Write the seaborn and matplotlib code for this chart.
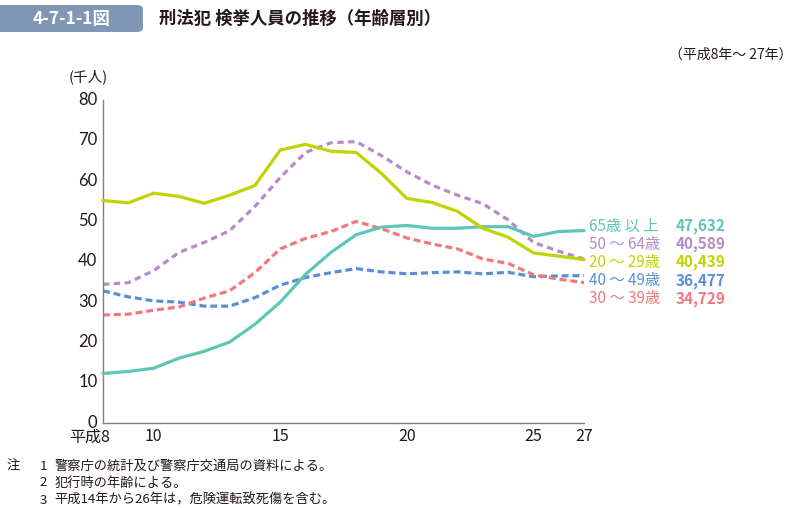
import numpy as np
import pandas as pd
import matplotlib
matplotlib.use("Agg")
import matplotlib.pyplot as plt
import matplotlib.transforms as mtransforms
from matplotlib.patches import FancyBboxPatch
from matplotlib.ticker import MultipleLocator
import seaborn as sns

# ---------------------------------------------------------------
#   刑法犯 検挙人員の推移（年齢層別）  平成8年～27年
# ---------------------------------------------------------------

years = list(range(8, 28))

age_20_29 = [55.1, 54.5, 56.9, 56.1, 54.4, 56.4, 58.8, 67.6, 69.0, 67.3,
             67.0, 61.8, 55.6, 54.6, 52.4, 48.2, 46.0, 42.1, 41.3, 40.439]
age_30_39 = [26.7, 26.9, 27.9, 28.7, 30.9, 32.7, 37.2, 43.1, 45.7, 47.4,
             49.9, 48.1, 45.8, 44.3, 43.1, 40.6, 39.5, 36.7, 35.6, 34.729]
age_40_49 = [32.7, 31.2, 30.2, 29.9, 28.9, 28.9, 31.0, 34.1, 36.0, 37.2,
             38.2, 37.4, 36.9, 37.2, 37.4, 36.9, 37.3, 36.2, 36.4, 36.477]
age_50_64 = [34.3, 34.7, 37.7, 42.2, 44.7, 47.6, 53.6, 60.8, 67.0, 69.4,
             69.7, 66.2, 62.2, 58.9, 56.4, 54.3, 50.3, 44.7, 42.5, 40.589]
age_65 = [12.2, 12.7, 13.5, 16.0, 17.7, 20.0, 24.4, 29.9, 36.8, 42.2,
          46.6, 48.5, 48.9, 48.2, 48.2, 48.6, 48.6, 46.2, 47.4, 47.632]

series_names = ["65歳 以 上", "50 ～ 64歳", "20 ～ 29歳", "40 ～ 49歳", "30 ～ 39歳"]
last_values = ["47,632", "40,589", "40,439", "36,477", "34,729"]
series_data = [age_65, age_50_64, age_20_29, age_40_49, age_30_39]

colors = ["#5ec6b6", "#b68bc7", "#bfd400", "#5a8ed6", "#f2787f"]
dash_styles = ["", (2.0, 1.4), "", (2.2, 1.2), (2.2, 1.2)]

xtick_pos = [8, 10, 15, 20, 25, 27]
xtick_labels = ["平成8", "10", "15", "20", "25", "27"]

# long-form table
df = pd.DataFrame({
    "year": np.tile(years, len(series_names)),
    "value": np.concatenate(series_data),
    "group": np.repeat(series_names, len(years)),
})

sns.set_style("white")
plt.rcParams["font.family"] = ["Noto Sans CJK JP", "DejaVu Sans"]

fig = plt.figure(figsize=(7.96, 5.08), dpi=100)
ax = fig.add_axes([0.1294, 0.1679, 0.6043, 0.6352])

sns.lineplot(
    data=df, x="year", y="value",
    hue="group", hue_order=series_names, palette=dict(zip(series_names, colors)),
    style="group", style_order=series_names,
    dashes=dict(zip(series_names, dash_styles)),
    linewidth=2.3, legend=False, ax=ax,
)
# draw order: solid lines on top
for line, name in zip(ax.lines, series_names):
    line.set_zorder(3 if name in ("65歳 以 上", "20 ～ 29歳") else 2)
    line.set_clip_on(False)

ax.set_xlim(8, 27)
ax.set_ylim(0, 80)
ax.set_xlabel("")
ax.set_ylabel("")
ax.yaxis.set_major_locator(MultipleLocator(10))
ax.set_xticks(xtick_pos)
ax.set_xticklabels(xtick_labels)
ax.set_xticks(years, minor=True)

for side in ["top", "right"]:
    ax.spines[side].set_visible(False)
for side in ["left", "bottom"]:
    ax.spines[side].set_color("#808080")
    ax.spines[side].set_linewidth(1.0)

ax.tick_params(axis="y", which="major", direction="in", length=5, width=0.8,
               color="#808080", labelsize=12, labelcolor="#231815", pad=4)
ax.tick_params(axis="x", which="major", direction="in", length=8, width=0.8,
               color="#808080", labelsize=11.5, labelcolor="#231815", pad=4)
ax.tick_params(axis="x", which="minor", direction="in", length=5, width=0.8,
               color="#808080")
ax.xaxis.get_major_ticks()[0].tick1line.set_markersize(5)
ax.xaxis.get_major_ticks()[-1].tick1line.set_markersize(5)

# y tick labels in a compact latin face so "0" and "平成8" keep apart
for t in ax.get_yticklabels():
    t.set_family(["Lato", "DejaVu Sans"])
    t.set_va("center")

# "平成8": keep the 8 under its tick, era name to the left
first = ax.get_xticklabels()[0]
first.set_ha("right")
first.set_transform(first.get_transform() +
                    mtransforms.ScaledTranslation(0.07, -0.01, fig.dpi_scale_trans))

# unit label
fig.text(0.086, 0.848, "(千人)", fontsize=10.5, color="#231815", ha="left", va="center")

# right-side labels and latest values
row_px = [226, 244, 262, 281, 299]
for name, val, col, ypx in zip(series_names, last_values, colors, row_px):
    fig.text(0.740, 1 - ypx / 508, name, fontsize=11, color=col, ha="left", va="center")
    fig.text(0.911, 1 - ypx / 508, val, fontsize=11, color=col, ha="right", va="center",
             fontweight="bold")

# header
box = FancyBboxPatch((-0.02, 1 - 32 / 508), 0.02 + 143 / 796, 27 / 508,
                     boxstyle="round,pad=0,rounding_size=0.008",
                     transform=fig.transFigure, facecolor="#7f97b5",
                     edgecolor="none", zorder=0)
fig.patches.append(box)
fig.text(0.090, 1 - 18.5 / 508, "4-7-1-1図", fontsize=12.5, color="white",
         fontweight="bold", ha="center", va="center")
fig.text(0.200, 1 - 18.5 / 508, "刑法犯 検挙人員の推移（年齢層別）", fontsize=12.5,
         color="#231815", fontweight="bold", ha="left", va="center")
fig.text(0.995, 1 - 55 / 508, "（平成8年～ 27年）", fontsize=10, color="#231815",
         ha="right", va="center")

# notes
notes = [("注", "1", "警察庁の統計及び警察庁交通局の資料による。"),
         ("", "2", "犯行時の年齢による。"),
         ("", "3", "平成14年から26年は，危険運転致死傷を含む。")]
for i, (head, num, txt) in enumerate(notes):
    y = 1 - (466 + i * 17) / 508
    if head:
        fig.text(0.008, y, head, fontsize=9.5, color="#231815", va="center")
    fig.text(0.050, y, num, fontsize=9.5, color="#231815", va="center")
    fig.text(0.068, y, txt, fontsize=9.5, color="#231815", va="center")

fig.savefig("out.png", dpi=100)
